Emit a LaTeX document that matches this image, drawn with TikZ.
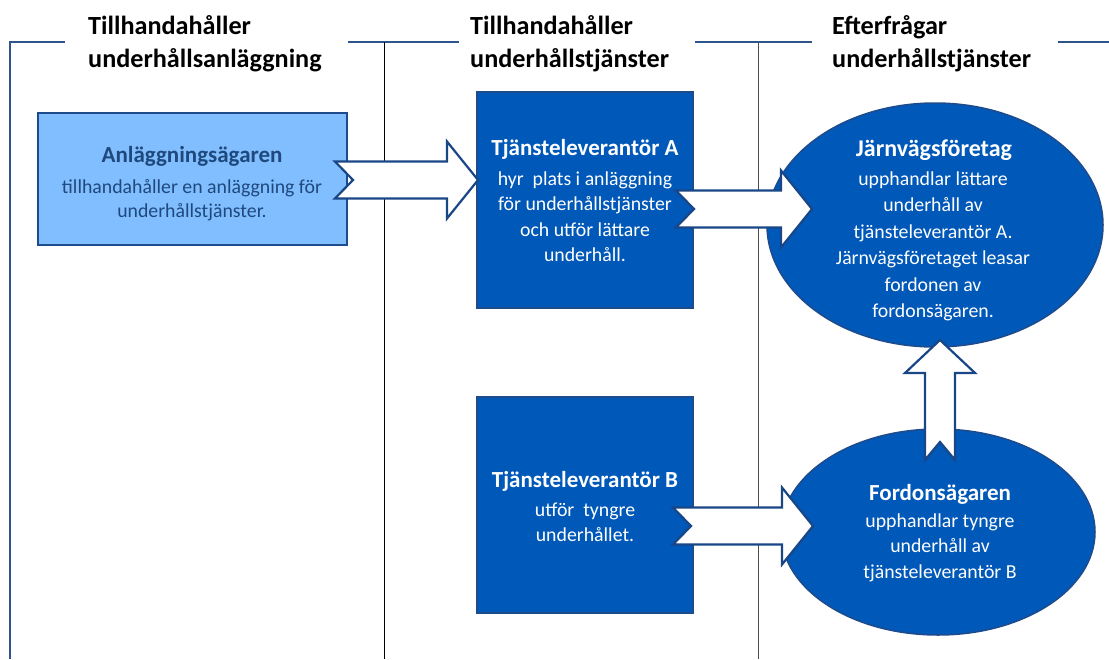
\documentclass[tikz,border=0pt]{standalone}
\usepackage{fontspec}
\setmainfont{Carlito}
\usetikzlibrary{shapes.geometric}
\definecolor{boxblue}{RGB}{0,88,184}
\definecolor{boxedge}{RGB}{30,75,140}
\definecolor{lightfill}{RGB}{128,190,255}
\definecolor{titleblue}{RGB}{31,73,125}
\definecolor{arrowedge}{RGB}{25,70,135}
\definecolor{hdrblue}{RGB}{46,84,140}
% horizontal notched block arrow: tail x, tip x, middle y
\newcommand\harrowshape[3]{%
  \draw[blockarrow] (#1,#3-18.5) -- (#2-31,#3-18.5) -- (#2-31,#3-38.5) -- (#2,#3)
    -- (#2-31,#3+38.5) -- (#2-31,#3+18.5) -- (#1,#3+18.5) -- (#1+18,#3) -- cycle;}
\begin{document}
\begin{tikzpicture}[x=1pt,y=-1pt,
  hdrline/.style={draw=hdrblue,line width=2.8pt},
  lane/.style={draw=black,line width=0.8pt},
  hdr/.style={anchor=north west,inner sep=0pt,align=left,
    font=\fontsize{26.2}{33}\selectfont\bfseries},
  darkbox/.style={draw=boxedge,line width=1.5pt,fill=boxblue,inner sep=0pt},
  lightbox/.style={draw=boxedge,line width=1.5pt,fill=lightfill,inner sep=0pt},
  blockarrow/.style={draw=arrowedge,line width=2.2pt,fill=white,line join=miter},
  ttl/.style={anchor=base,inner sep=0pt,text=white,font=\fontsize{23}{26}\selectfont\bfseries},
  body/.style={inner sep=0pt,align=center,text=white,font=\fontsize{19.8}{25.5}\selectfont},
]
\useasboundingbox (0,0) rectangle (1109,659);

% swim-lane frame and header rule
\draw[hdrline] (10,659) -- (10,42) -- (65,42);
\draw[hdrline] (348,42) -- (459,42);
\draw[hdrline] (695,42) -- (812,42);
\draw[hdrline] (1058,42) -- (1109,42);
\draw[lane] (384,42) -- (384,659);
\draw[draw=black!70,line width=0.9pt] (758,42) -- (758,659);

% lane headings
\node[hdr] (h1) at (88,15) {Tillhandahåller\\underhållsanläggning};
\node[hdr] (h2) at (470,15) {Tillhandahåller\\underhållstjänster};
\node[hdr] (h3) at (832,15) {Efterfrågar\\underhållstjänster};

% actors
\node[lightbox,minimum width=309pt,minimum height=132pt] (owner) at (192.5,179) {};
\node[darkbox,minimum width=216pt,minimum height=216pt] (suppA) at (585,200) {};
\node[darkbox,minimum width=216pt,minimum height=216pt] (suppB) at (585,505) {};
\node[darkbox,ellipse,minimum width=336pt,minimum height=244pt] (rail) at (935,225) {};
\node[darkbox,ellipse,minimum width=314pt,minimum height=206pt] (fleet) at (938,532) {};

% block arrows between the actors
\harrowshape{335}{478}{180}
\harrowshape{676}{812}{209}
\harrowshape{673}{813}{526}
\draw[blockarrow] (925,460) -- (925,373) -- (905,373) -- (940,340) -- (975,373)
  -- (955,373) -- (955,460) -- (940,442) -- cycle;

% texts
\node[ttl,text=titleblue] (ownerT) at (192,162) {Anläggningsägaren};
\node[body,text=titleblue,font=\fontsize{19.8}{24}\selectfont] (ownerB) at (192,200)
  {tillhandahåller en anläggning för\\underhållstjänster.};

\node[ttl] (suppAT) at (585,155) {Tjänsteleverantör A};
\node[body] (suppAB) at (585,216.5)
  {hyr\ \ plats i anläggning\\för underhållstjänster\\och utför lättare\\underhåll.};

\node[ttl] (suppBT) at (585,487) {Tjänsteleverantör B};
\node[body] (suppBB) at (585,522.5) {utför\ \ tyngre\\underhållet.};

\node[ttl,font=\fontsize{24}{26}\selectfont\bfseries] (railT) at (934,156) {Järnvägsföretag};
\node[body,font=\fontsize{19.8}{26.5}\selectfont] (railB) at (933,246.5)
  {upphandlar lättare\\underhåll av\\tjänsteleverantör A.\\Järnvägsföretaget leasar\\fordonen av\\fordonsägaren.};

\node[ttl] (fleetT) at (940,500) {Fordonsägaren};
\node[body] (fleetB) at (940,547.5)
  {upphandlar tyngre\\underhåll av\\tjänsteleverantör B};
\end{tikzpicture}
\end{document}
